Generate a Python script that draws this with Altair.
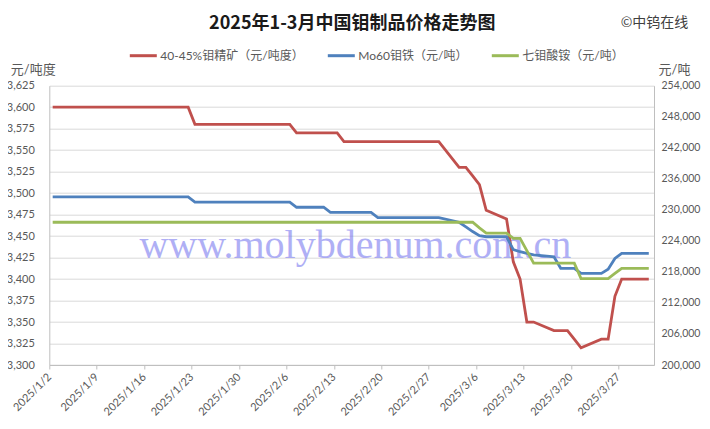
import altair as alt
import pandas as pd

# ---------------- data ----------------
dates = [
    "2025-01-02", "2025-01-22", "2025-01-23", "2025-02-06", "2025-02-07",
    "2025-02-11", "2025-02-12", "2025-02-13", "2025-02-14", "2025-02-18",
    "2025-02-19", "2025-02-28", "2025-03-03", "2025-03-04", "2025-03-05",
    "2025-03-06", "2025-03-07", "2025-03-10", "2025-03-11", "2025-03-12",
    "2025-03-13", "2025-03-14", "2025-03-17", "2025-03-18", "2025-03-19",
    "2025-03-20", "2025-03-21", "2025-03-24", "2025-03-25", "2025-03-26",
    "2025-03-27", "2025-03-28", "2025-03-31",
]
# 40-45% molybdenum concentrate (yuan / tonne-degree), left axis
ore = [3600, 3600, 3580, 3580, 3570, 3570, 3570, 3570, 3560, 3560,
       3560, 3560, 3530, 3530, 3520, 3510, 3480, 3470, 3420, 3400,
       3350, 3350, 3340, 3340, 3340, 3330, 3320, 3330, 3330, 3380,
       3400, 3400, 3400]
# Mo60 ferromolybdenum (yuan / tonne), right axis
femo = [232500, 232500, 231500, 231500, 230500, 230500, 229500, 229500, 229500, 229500,
        228500, 228500, 227600, 226700, 225800, 225000, 224800, 224800, 222300, 221900,
        221600, 221300, 220900, 218700, 218700, 218700, 217700, 217700, 218500, 220600,
        221600, 221600, 221600]
# ammonium heptamolybdate (yuan / tonne), right axis
ahm = [227600, 227600, 227600, 227600, 227600, 227600, 227600, 227600, 227600, 227600,
       227600, 227600, 227600, 227600, 227600, 226500, 225500, 225500, 224500, 224500,
       222100, 219700, 219700, 219700, 219700, 219700, 216700, 216700, 216700, 217700,
       218700, 218700, 218700]

series_names = ["40-45%钼精矿（元/吨度）", "Mo60钼铁（元/吨）", "七钼酸铵（元/吨）"]
series_colors = ["#C0504D", "#4F81BD", "#9BBB59"]

left_ticks = list(range(3300, 3626, 25))
right_ticks = list(range(200000, 254001, 6000))
x_tick_labels = ["2025/1/2", "2025/1/9", "2025/1/16", "2025/1/23", "2025/1/30",
                 "2025/2/6", "2025/2/13", "2025/2/20", "2025/2/27", "2025/3/6",
                 "2025/3/13", "2025/3/20", "2025/3/27"]

title_text = "2025年1-3月中国钼制品价格走势图"
copyright_text = "©中钨在线"
watermark_text = "www.molybdenum.com.cn"

# ---------------- build table ----------------
start = pd.Timestamp("2025-01-02")
rows = []
for name, vals in zip(series_names, [ore, femo, ahm]):
    for d, v in zip(dates, vals):
        rows.append({"series": name, "day": (pd.Timestamp(d) - start).days, "value": v})
df = pd.DataFrame(rows)

x_tick_vals = [(pd.to_datetime(l, format="%Y/%m/%d") - start).days - 0.5 for l in x_tick_labels]
label_expr = "[" + ",".join("'" + l + "'" for l in x_tick_labels) + "][round((datum.value + 0.5) / 7)]"

FONT = "Lato, 'Noto Sans CJK SC', sans-serif"
GRAY = "#595959"
LINE_GRAY = "#BFBFBF"

x_enc = alt.X(
    "day:Q",
    scale=alt.Scale(domain=[-0.5, 88.77], nice=False, zero=False),
    axis=alt.Axis(values=x_tick_vals, labelExpr=label_expr, labelAngle=-45,
                  labelAlign="right", labelBaseline="middle", labelPadding=6,
                  tickSize=4, tickColor=LINE_GRAY, domainColor=LINE_GRAY,
                  grid=False, title=None, labelOverlap=False, labelFlush=False,
                  labelBound=False, labelFontSize=11, labelColor=GRAY, labelFont=FONT),
)

color_enc = alt.Color(
    "series:N",
    scale=alt.Scale(domain=series_names, range=series_colors),
    sort=series_names,
    legend=alt.Legend(orient="none", legendX=79, legendY=-45, direction="horizontal",
                      title=None, symbolType="stroke", symbolSize=729,
                      symbolStrokeWidth=3, labelFontSize=12, labelColor=GRAY,
                      labelFont=FONT, labelOffset=2, columnPadding=17, labelLimit=400,
                      padding=0),
)

base = alt.Chart(df)

left = base.transform_filter(
    alt.FieldOneOfPredicate(field="series", oneOf=[series_names[0]])
).mark_line(strokeWidth=2.8).encode(
    x=x_enc,
    y=alt.Y("value:Q",
            scale=alt.Scale(domain=[3300, 3625], nice=False, zero=False),
            axis=alt.Axis(values=left_ticks, format=",.0f", ticks=False, labelPadding=15,
                          domainColor=LINE_GRAY, gridColor="#D9D9D9", grid=True,
                          labelFontSize=11, labelColor=GRAY, labelFont=FONT,
                          title="元/吨度", titleAngle=0, titleX=-39, titleY=-16,
                          titleAlign="left", titleBaseline="middle", titleFontSize=13,
                          titleFontWeight="normal", titleColor=GRAY, titleFont=FONT)),
    color=color_enc,
)

right = base.transform_filter(
    alt.FieldOneOfPredicate(field="series", oneOf=series_names[1:])
).mark_line(strokeWidth=2.8).encode(
    x=x_enc,
    y=alt.Y("value:Q",
            scale=alt.Scale(domain=[200000, 254000], nice=False, zero=False),
            axis=alt.Axis(orient="right", values=right_ticks, format=",.0f", ticks=False,
                          labelPadding=7, domainColor=LINE_GRAY, grid=False,
                          labelFontSize=10.5, labelColor=GRAY, labelFont=FONT,
                          title="元/吨", titleAngle=0, titleX=4, titleY=-16,
                          titleAlign="left", titleBaseline="middle", titleFontSize=13,
                          titleFontWeight="normal", titleColor=GRAY, titleFont=FONT)),
    color=color_enc,
)

watermark = alt.Chart(pd.DataFrame({"t": [watermark_text]})).mark_text(
    font="Liberation Serif", fontSize=40, color="#7B7BF0", opacity=0.6,
    align="center", baseline="alphabetic",
).encode(text="t:N", x=alt.value(306), y=alt.value(172))

title = alt.Chart(pd.DataFrame({"t": [title_text]})).mark_text(
    font="'Noto Sans CJK SC', sans-serif", fontSize=18, fontWeight="bold", color="#1A1A1A",
    align="center", baseline="middle",
).encode(text="t:N", x=alt.value(303), y=alt.value(-62))

copyright_mark = alt.Chart(pd.DataFrame({"t": [copyright_text]})).mark_text(
    font="'Noto Sans CJK SC', sans-serif", fontSize=14, color="#404040",
    align="right", baseline="middle",
).encode(text="t:N", x=alt.value(639), y=alt.value(-63))

chart = alt.layer(watermark, left, right, title, copyright_mark).resolve_scale(
    y="independent"
).properties(
    width=604.7, height=279.3,
    padding={"left": 41.3, "top": 77.7, "right": 48, "bottom": 56},
    autosize=alt.AutoSizeParams(type="none"),
    background="white",
).configure_view(stroke=None)

chart.save("out.html", embed_options={"renderer": "svg", "actions": False})
